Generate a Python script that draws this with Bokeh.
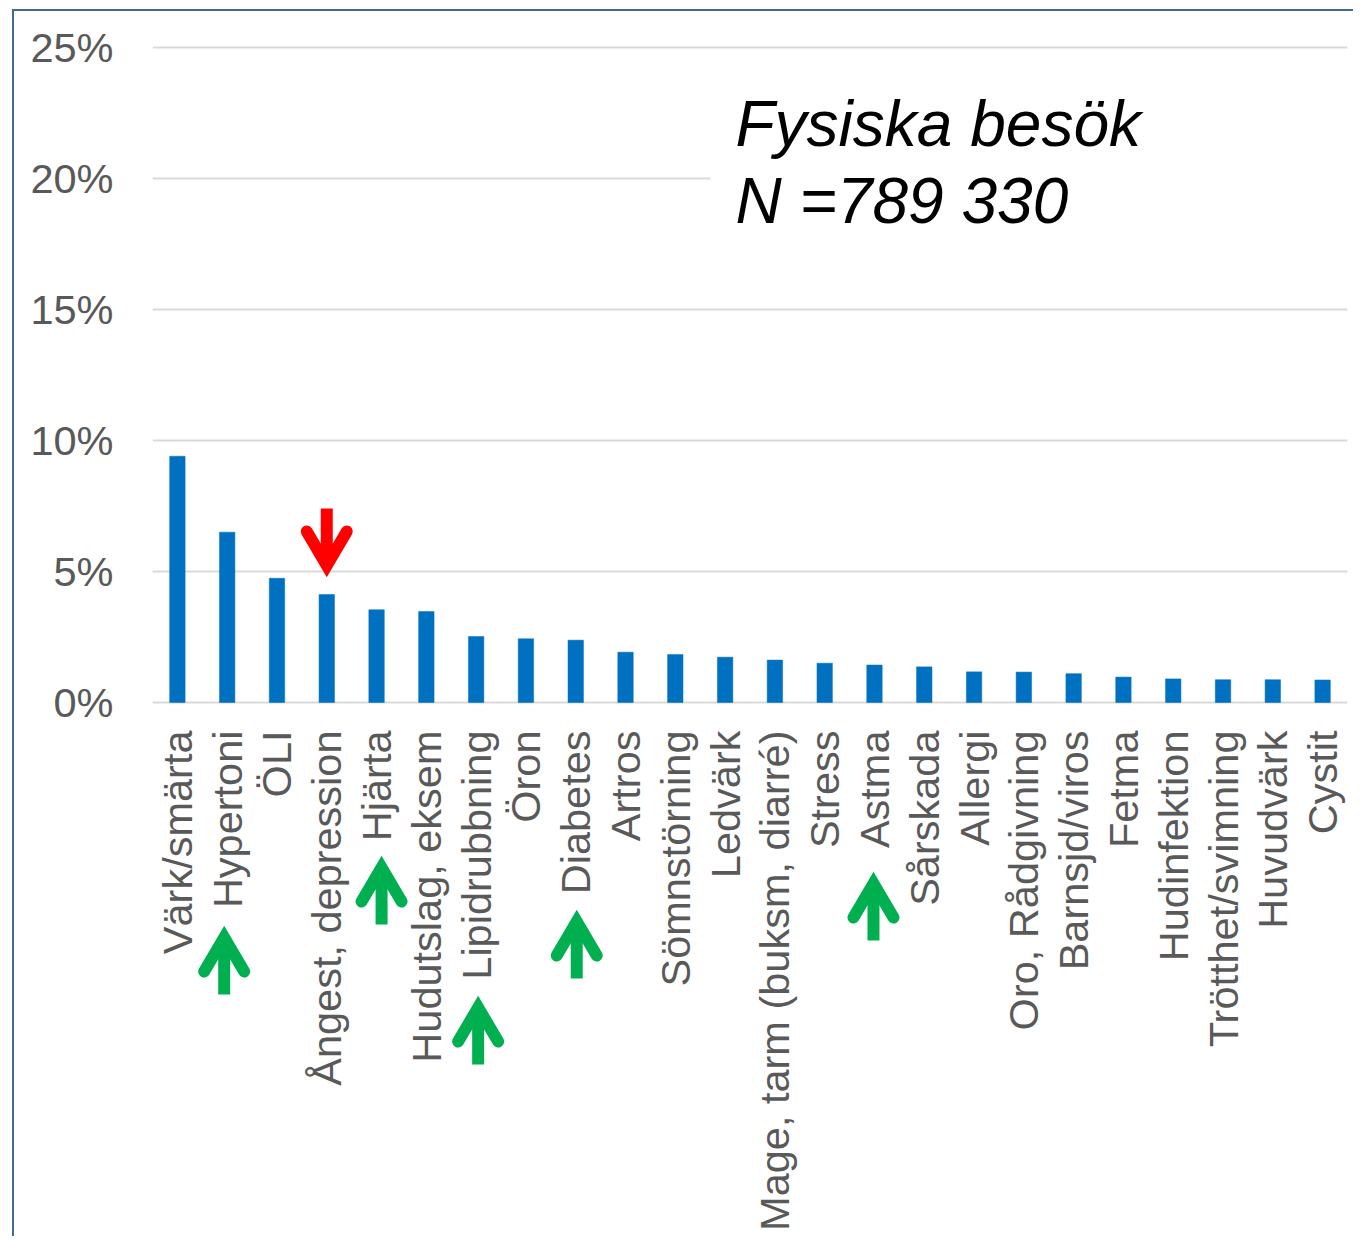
import math
from bokeh.plotting import figure
from bokeh.models import FactorRange, Range1d, FixedTicker, PrintfTickFormatter, ColumnDataSource
from bokeh.core.properties import value
from bokeh.embed import file_html
from bokeh.resources import INLINE

# ---------------- data ----------------
categories = ["Värk/smärta", "Hypertoni", "ÖLI", "Ångest, depression", "Hjärta",
              "Hudutslag, eksem", "Lipidrubbning", "Öron", "Diabetes", "Artros",
              "Sömnstörning", "Ledvärk", "Mage, tarm (buksm, diarré)", "Stress", "Astma",
              "Sårskada", "Allergi", "Oro, Rådgivning", "Barnsjd/viros", "Fetma",
              "Hudinfektion", "Trötthet/svimning", "Huvudvärk", "Cystit"]
shares = [9.40, 6.50, 4.74, 4.12, 3.54, 3.47, 2.52, 2.43, 2.38, 1.92,
          1.83, 1.73, 1.62, 1.50, 1.43, 1.36, 1.17, 1.16, 1.10, 0.97,
          0.90, 0.87, 0.87, 0.86]
y_ticks = [0, 5, 10, 15, 20, 25]
up_categories = ["Hypertoni", "Hjärta", "Lipidrubbning", "Diabetes", "Astma"]
down_categories = ["Ångest, depression"]
title_lines = ["Fysiska besök", "N =789 330"]

# ---------------- layout (pixels) ----------------
W, H = 1341, 1227
MB_LEFT, MB_RIGHT = 138, 8
FRAME_TOP_PAGE = 11          # page y of frame top (9 margin + 2 border)
ZERO_PAGE = 702              # page y of 0 %
PX_PER_PCT = 26.2
FRAME_LEFT_PAGE = 152
N = len(categories)
CAT_PX = (W - MB_LEFT - MB_RIGHT) / N

y_end = (ZERO_PAGE - FRAME_TOP_PAGE) / PX_PER_PCT
y_start = y_end - H / PX_PER_PCT

def ydata(page_y):
    return (ZERO_PAGE - page_y) / PX_PER_PCT

def xdata(page_x):
    return (page_x - FRAME_LEFT_PAGE) / CAT_PX

def xcat(cat, dx_px=0.0):
    return categories.index(cat) + 0.5 + dx_px / CAT_PX

up_tip_page = [925, 855, 995, 909, 871]
up_dx = [-3, 5, 2, 1, -1]
down_tip_page = [577]
down_dx = [0]
ARROW_LEN = 69

GRAY_TXT = "#595959"
FONT = "Liberation Sans"

p = figure(width=W, height=H,
           x_range=FactorRange(factors=categories, range_padding=0),
           y_range=Range1d(y_start, y_end),
           x_axis_location=None, toolbar_location=None, output_backend="svg",
           min_border_left=MB_LEFT, min_border_right=MB_RIGHT,
           min_border_top=0, min_border_bottom=0,
           outline_line_color=None,
           styles={"border-left": "2px solid #46698F", "border-top": "2px solid #46698F",
                   "margin-left": "12px", "margin-top": "9px"})

p.yaxis.ticker = FixedTicker(ticks=y_ticks)
p.yaxis.formatter = PrintfTickFormatter(format="%d%%")
p.yaxis.axis_line_color = None
p.yaxis.major_tick_line_color = None
p.yaxis.minor_tick_line_color = None
p.yaxis.major_tick_out = 0
p.yaxis.major_tick_in = 0
p.yaxis.major_label_standoff = 39
p.yaxis.major_label_text_font = FONT
p.yaxis.major_label_text_font_size = "41.5px"
p.yaxis.major_label_text_color = GRAY_TXT

p.ygrid.ticker = FixedTicker(ticks=y_ticks)
p.ygrid.grid_line_color = "#D9D9D9"
p.ygrid.grid_line_width = 2
p.xgrid.visible = False

# bars
src = ColumnDataSource(dict(cat=categories, share=shares))
p.vbar(x="cat", top="share", width=0.31, source=src, fill_color="#0070C0",
       line_color="#0070C0", line_width=0.5)

# category labels (rotated)
lab_src = ColumnDataSource(dict(cat=categories, y=[ydata(730)] * N))
p.text(x="cat", y="y", text="cat", source=lab_src, angle=math.pi / 2,
       text_align="right", text_baseline="middle",
       text_font=value(FONT), text_font_size="41.5px", text_color=GRAY_TXT)

# white box behind the title (hides part of the 20 % grid line)
p.quad(left=[xdata(710)], right=[N], bottom=[16], top=[24],
       fill_color="white", line_color=None)

# title text
p.text(x=[xdata(735)] * 2, y=[ydata(123), ydata(200)], text=title_lines,
       text_font=value(FONT), text_font_style="italic", text_font_size="64px",
       text_color="black", text_align="left", text_baseline="alphabetic")

# arrows
def arrow_geometry(cats, tips, dxs, direction):
    shafts_x, shafts_y, chev_x, chev_y = [], [], [], []
    for c, t, dx in zip(cats, tips, dxs):
        cx = xcat(c, dx)
        s = direction  # +1: up (tip above), -1: down
        tail = t + s * ARROW_LEN
        vtx = t + s * 12
        wing = vtx + s * 34
        shafts_x.append([cx, cx])
        shafts_y.append([ydata(tail), ydata(vtx + s * 2)])
        w = 20 / CAT_PX
        chev_x.append([cx - w, cx, cx + w])
        chev_y.append([ydata(wing), ydata(vtx), ydata(wing)])
    return shafts_x, shafts_y, chev_x, chev_y

for cats, tips, dxs, direction, col in [
        (up_categories, up_tip_page, up_dx, 1, "#00B050"),
        (down_categories, down_tip_page, down_dx, -1, "#FF0000")]:
    sx, sy, cxs, cys = arrow_geometry(cats, tips, dxs, direction)
    p.multi_line(xs=sx, ys=sy, line_color=col, line_width=12, line_cap="butt")
    p.multi_line(xs=cxs, ys=cys, line_color=col, line_width=12,
                 line_cap="round", line_join="miter")

open("out.html", "w").write(file_html(p, INLINE))
